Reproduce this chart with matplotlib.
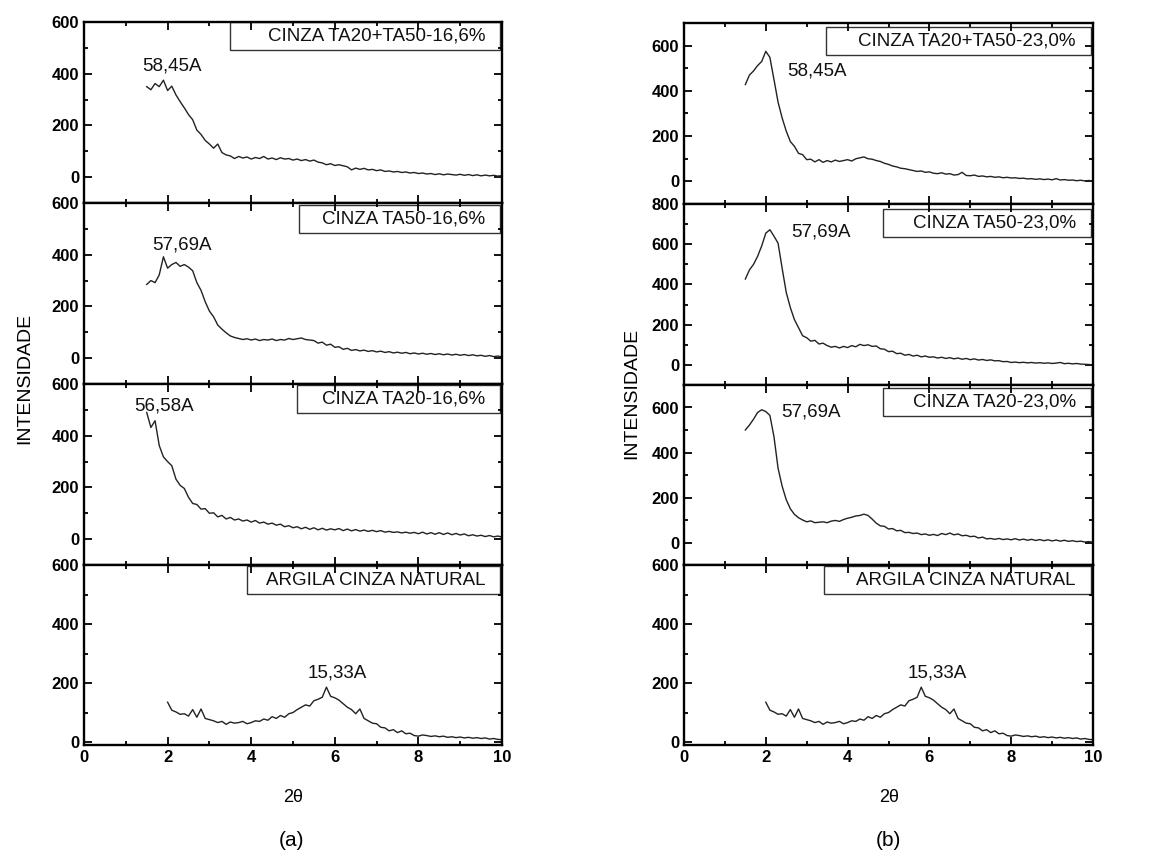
import matplotlib
matplotlib.use("Agg")
import matplotlib.pyplot as plt
import numpy as np
from matplotlib.patches import Rectangle
from matplotlib.ticker import MultipleLocator

plt.rcParams['font.family'] = ['Liberation Sans', 'DejaVu Sans']

# 2-theta grid (step 0.1)
x_from_15 = np.round(np.arange(1.5, 10.001, 0.1), 2)
x_from_20 = np.round(np.arange(2.0, 10.001, 0.1), 2)

# (a) series
a_ta20_ta50 = [350, 338, 362, 350, 375, 335, 352, 318, 292, 268,
               242, 222, 182, 165, 142, 128, 112, 128, 95, 86,
               82, 72, 80, 74, 78, 70, 76, 72, 80, 70,
               74, 68, 75, 70, 72, 66, 70, 64, 68, 62,
               66, 58, 55, 48, 52, 45, 48, 44, 40, 28,
               35, 30, 34, 28, 30, 25, 28, 22, 24, 20,
               22, 18, 20, 16, 18, 14, 16, 12, 14, 10,
               13, 9, 12, 10, 8, 11, 7, 10, 6, 9,
               5, 8, 5, 7, 4, 6]
a_ta50 = [285, 300, 292, 322, 392, 348, 362, 370, 355, 362,
          352, 338, 292, 262, 218, 182, 160, 128, 112, 98,
          86, 80, 76, 72, 75, 70, 74, 68, 72, 70,
          74, 68, 72, 70, 76, 72, 75, 78, 72, 70,
          68, 58, 62, 50, 54, 42, 44, 34, 38, 30,
          33, 28, 31, 26, 29, 24, 27, 22, 25, 20,
          23, 19, 22, 17, 20, 16, 19, 15, 18, 14,
          17, 13, 16, 12, 15, 11, 14, 10, 13, 9,
          11, 7, 10, 6, 8, 5]
a_ta20 = [490, 432, 458, 362, 318, 300, 284, 232, 208, 196,
          162, 138, 134, 116, 118, 100, 102, 86, 92, 78,
          84, 74, 78, 70, 74, 66, 72, 62, 66, 58,
          62, 54, 58, 48, 52, 44, 48, 40, 46, 38,
          44, 36, 42, 35, 40, 36, 41, 33, 39, 32,
          37, 31, 35, 30, 34, 29, 33, 27, 30, 26,
          28, 24, 27, 23, 26, 21, 27, 20, 25, 19,
          25, 18, 24, 17, 22, 16, 20, 13, 17, 12,
          15, 10, 14, 9, 12, 8]
natural = [135, 108, 102, 94, 96, 88, 110, 84, 112, 80,
           76, 72, 66, 70, 60, 68, 64, 66, 70, 62,
           66, 72, 70, 78, 74, 86, 80, 90, 84, 96,
           100, 110, 118, 126, 122, 140, 145, 152, 186, 155,
           150, 142, 130, 118, 110, 96, 112, 80, 72, 64,
           62, 50, 48, 38, 42, 32, 38, 28, 30, 22,
           20, 24, 22, 19, 21, 18, 20, 16, 18, 15,
           17, 14, 16, 13, 15, 12, 14, 10, 12, 9,
           8]

# (b) series
b_ta20_ta50 = [428, 470, 488, 512, 530, 575, 548, 450, 350, 280,
               222, 176, 155, 124, 118, 96, 98, 86, 96, 84,
               92, 86, 94, 88, 92, 96, 90, 100, 104, 108,
               100, 98, 92, 88, 80, 75, 68, 64, 58, 56,
               52, 48, 44, 46, 40, 42, 36, 34, 38, 32,
               34, 28, 30, 40, 26, 25, 28, 22, 24, 20,
               22, 18, 20, 16, 18, 15, 16, 13, 14, 11,
               12, 9, 11, 8, 10, 7, 12, 6, 8, 5,
               6, 3, 5, 2, 4, 1]
b_ta50 = [427, 472, 500, 540, 592, 655, 672, 640, 605, 480,
          360, 285, 225, 185, 145, 135, 118, 122, 104, 108,
          96, 88, 92, 84, 92, 86, 96, 90, 102, 96,
          100, 92, 94, 80, 78, 66, 68, 56, 58, 48,
          52, 44, 48, 40, 44, 38, 40, 34, 38, 32,
          36, 30, 34, 28, 32, 26, 30, 24, 27, 22,
          25, 20, 21, 16, 17, 12, 14, 11, 13, 10,
          12, 9, 11, 8, 10, 7, 9, 12, 6, 8,
          5, 7, 4, 3, 2, 0]
b_ta20 = [500, 522, 548, 578, 590, 582, 565, 470, 330, 250,
          190, 150, 125, 110, 100, 92, 96, 88, 90, 92,
          88, 95, 98, 94, 102, 108, 112, 118, 120, 126,
          120, 104, 86, 74, 72, 60, 62, 52, 54, 44,
          45, 40, 42, 35, 38, 32, 36, 31, 40, 35,
          42, 34, 38, 30, 32, 26, 28, 20, 24, 16,
          18, 14, 18, 13, 16, 12, 17, 11, 15, 10,
          14, 9, 13, 8, 12, 7, 11, 6, 10, 5,
          8, 4, 6, 2, 4, 1]

labels_a = ['CINZA TA20+TA50-16,6%', 'CINZA TA50-16,6%', 'CINZA TA20-16,6%', 'ARGILA CINZA NATURAL']
labels_b = ['CINZA TA20+TA50-23,0%', 'CINZA TA50-23,0%', 'CINZA TA20-23,0%', 'ARGILA CINZA NATURAL']
peaks_a = ['58,45A', '57,69A', '56,58A', '15,33A']
peaks_b = ['58,45A', '57,69A', '57,69A', '15,33A']

W, H = 1151, 855
fig = plt.figure(figsize=(W / 100, H / 100), dpi=100)


def panel(px_left, px_right, px_top, px_bot):
    return fig.add_axes([px_left / W, 1 - px_bot / H, (px_right - px_left) / W, (px_bot - px_top) / H])


columns = [
    dict(left=84, right=502, rows=[(22, 203), (203, 384), (384, 565), (565, 745)],
         xs=[x_from_15, x_from_15, x_from_15, x_from_20],
         ys=[a_ta20_ta50, a_ta50, a_ta20, natural],
         ylims=[(-100, 600), (-100, 600), (-100, 600), (-10, 600)],
         yticks=[[0, 200, 400, 600]] * 4,
         labels=labels_a, box_left=[230, 299, 297, 247], box_top=[22, 205, 385, 566],
         peaks=peaks_a, peak_pos=[(2.1, 430), (2.35, 437), (1.91, 515), (6.07, 234)]),
    dict(left=684, right=1093, rows=[(23, 204), (204, 385), (385, 565), (565, 745)],
         xs=[x_from_15, x_from_15, x_from_15, x_from_20],
         ys=[b_ta20_ta50, b_ta50, b_ta20, natural],
         ylims=[(-100, 700), (-100, 800), (-100, 700), (-10, 600)],
         yticks=[[0, 200, 400, 600], [0, 200, 400, 600, 800], [0, 200, 400, 600], [0, 200, 400, 600]],
         labels=labels_b, box_left=[826, 883, 883, 824], box_top=[27, 209, 388, 566],
         peaks=peaks_b, peak_pos=[(3.25, 486), (3.35, 660), (3.1, 578), (6.2, 234)]),
]

for col in columns:
    L, R = col['left'], col['right']
    for i, (top, bot) in enumerate(col['rows']):
        ax = panel(L, R, top, bot)
        ax.plot(col['xs'][i], col['ys'][i], color='#222222', lw=1.0)
        ax.set_xlim(0, 10)
        ax.set_ylim(*col['ylims'][i])
        ax.set_yticks(col['yticks'][i])
        ax.yaxis.set_minor_locator(MultipleLocator(100))
        ax.xaxis.set_major_locator(MultipleLocator(2))
        ax.xaxis.set_minor_locator(MultipleLocator(1))
        ax.tick_params(which='both', direction='in', top=True, right=True, width=1.3)
        ax.tick_params(which='major', length=6)
        ax.tick_params(which='minor', length=3)
        for s in ax.spines.values():
            s.set_linewidth(1.7)
        for t in ax.get_yticklabels() + ax.get_xticklabels():
            t.set_fontweight('bold')
            t.set_fontsize(12)
        if i < 3:
            ax.tick_params(labelbottom=False)
        # legend box
        pw = R - L
        ph = bot - top
        bx0 = (col['box_left'][i] - L) / pw
        bx1 = (R - 2 - L) / pw
        by1 = 1 - (col['box_top'][i] - top) / ph
        by0 = by1 - 28 / ph
        ax.add_patch(Rectangle((bx0, by0), bx1 - bx0, by1 - by0, transform=ax.transAxes,
                               fill=False, edgecolor='#333333', lw=1.0, clip_on=False))
        ax.text(bx1 - 15 / pw, (by0 + by1) / 2, col['labels'][i], transform=ax.transAxes,
                ha='right', va='center', fontsize=13.5, color='#111111')
        px, py = col['peak_pos'][i]
        ax.text(px, py, col['peaks'][i], ha='center', va='center', fontsize=13.5, color='#111111')

fig.text(25 / W, 1 - 378 / H, 'INTENSIDADE', rotation=90, ha='center', va='center', fontsize=14)
fig.text(632 / W, 1 - 393 / H, 'INTENSIDADE', rotation=90, ha='center', va='center', fontsize=14)
fig.text(293 / W, 1 - 797 / H, '2θ', ha='center', va='center', fontsize=13)
fig.text(889 / W, 1 - 797 / H, '2θ', ha='center', va='center', fontsize=13)
fig.text(292 / W, 1 - 840 / H, '(a)', ha='center', va='center', fontsize=15)
fig.text(888 / W, 1 - 840 / H, '(b)', ha='center', va='center', fontsize=15)

fig.savefig('out.png', dpi=100)
